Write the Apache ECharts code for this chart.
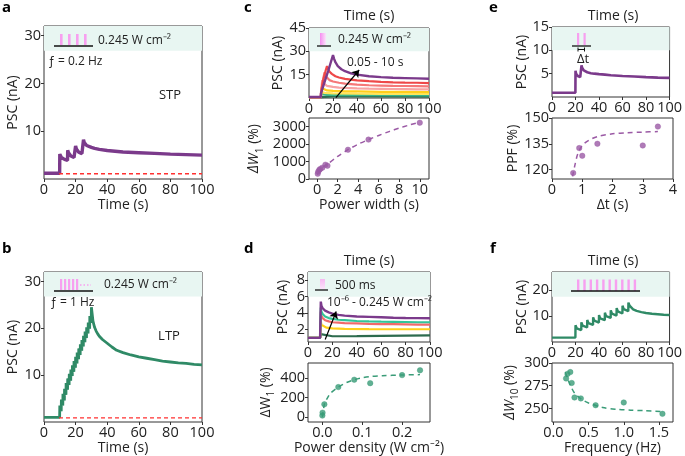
<!DOCTYPE html>
<html><head><meta charset="utf-8">
<script src="https://cdn.jsdelivr.net/npm/echarts@6/dist/echarts.min.js"></script>
<style>html,body{margin:0;padding:0;background:#fff}#c{width:685px;height:456px}</style>
</head><body><div id="c"></div>
<script>
// ---------------- DATA ----------------
// a: STP trace, time (s) vs PSC (nA)
const aTrace = [[0,1.2],[5,1.2],[9.9,1.2],[10,5.2],[10.5,4.8],[11,4.5],[12,4.3],[13,4.1],[14,4.0],[14.9,3.9],[15,6.0],[15.5,5.5],[16,5.1],[17,4.8],[18,4.6],[19,4.5],[19.9,4.4],[20,6.9],[20.5,6.3],[21,5.9],[22,5.6],[23,5.4],[24,5.3],[24.9,5.2],[25,8.2],[25.5,7.6],[26,7.2],[27,7.0],[28,6.85],[30,6.6],[32,6.4],[35,6.2],[40,5.95],[45,5.8],[50,5.65],[60,5.5],[70,5.35],[80,5.2],[90,5.1],[100,5.0]];
const aBaseline = [[9.5,1.1],[100,1.1]];
// b: LTP trace
const bTrace = [[0,1.0],[5,1.0],[9.9,1.0],
 [10,3.5],[10.9,2.3],[11,4.8],[11.9,3.5],[12,6.0],[12.9,4.6],[13,7.1],[13.9,5.8],[14,8.3],[14.9,6.9],[15,9.3],[15.9,7.9],
 [16,10.3],[16.9,8.8],[17,11.2],[17.9,9.8],[18,12.1],[18.9,10.7],[19,13.0],[19.9,11.6],[20,13.9],[20.9,12.5],
 [21,14.8],[21.9,13.4],[22,15.7],[22.9,14.3],[23,16.6],[23.9,15.2],[24,17.5],[24.9,16.1],[25,18.4],[25.9,17.0],
 [26,19.3],[26.9,17.9],[27,20.2],[27.9,18.9],[28,21.2],[28.9,19.9],[29,22.6],[29.9,21.2],[30,24.5],
 [31,21.5],[32,20.2],[33,19.4],[34,18.8],[35,18.3],[37,17.6],[40,16.8],[43,16.0],[46,15.3],[50,14.8],[55,14.3],
 [60,13.9],[65,13.6],[70,13.3],[75,13.0],[80,12.8],[85,12.6],[90,12.5],[95,12.3],[100,12.2]];
const bBaseline = [[9.5,0.9],[100,0.9]];
// c: traces for pulse widths 0.05 - 10 s
const cPurple = [[0,0.6],[9.9,0.6],[10,3],[12,8],[14,12.8],[16,17.5],[18,22.5],[20,27.5],[21,25],[22,23],[24,20.5],[27,18.5],[30,17.2],[35,15.8],[40,15],[50,14],[60,13.4],[70,13],[80,12.8],[90,12.6],[100,12.4]];
const cRed = [[0,0.6],[9.9,0.6],[10,3],[11,8],[12,12],[13,15],[14,18],[15,20.5],[16,18.5],[17,17],[19,15.5],[22,14],[25,13.2],[30,12.3],[40,11.3],[50,10.8],[60,10.4],[70,10.1],[80,9.9],[90,9.8],[100,9.6]];
const cSalmon = [[0,0.6],[9.9,0.6],[10,3],[11,8.5],[12,13],[13,16.5],[14,14],[15,12.8],[17,11.5],[20,10.6],[25,9.8],[30,9.2],[40,8.6],[50,8.2],[60,8.0],[70,7.8],[80,7.7],[90,7.6],[100,7.5]];
const cPink = [[0,0.6],[9.9,0.6],[10,4],[11,11.5],[12,9.5],[13,8.6],[15,7.8],[20,7.1],[25,6.7],[30,6.5],[40,6.2],[50,6.0],[60,5.9],[70,5.8],[80,5.7],[90,5.6],[100,5.6]];
const cYellow = [[0,0.6],[9.9,0.6],[10.5,6.5],[11,5.8],[12,5.3],[15,4.9],[20,4.6],[30,4.3],[40,4.2],[60,4.0],[80,3.9],[100,3.8]];
const cGold = [[0,0.6],[9.9,0.6],[10.2,4],[11,3.6],[13,3.3],[20,3.0],[40,2.8],[60,2.7],[100,2.6]];
const cGreen = [[0,0.6],[9.9,0.6],[10.1,2.6],[11,2.2],[15,2.0],[30,1.9],[60,1.8],[100,1.7]];
const cDarkGreen = [[0,0.6],[9.9,0.6],[10.05,1.6],[11,1.3],[20,1.1],[50,1.0],[100,0.9]];
// c bottom: power width (s) vs dW1 (%)
const cWidth = [0.05, 0.1, 0.2, 0.3, 0.5, 0.8, 1, 3, 5, 10];
const cDW = [300, 420, 520, 580, 650, 820, 760, 1680, 2260, 3230];
const cFitX = [0, 0.5, 1, 2, 3, 4, 5, 6, 7, 8, 9, 10];
const cFitY = [250, 650, 850, 1300, 1680, 2000, 2260, 2500, 2720, 2920, 3100, 3260];
// d: traces for power densities
const dPurple = [[0,1.0],[9.9,1.0],[10.5,5.4],[11,4.9],[12,4.6],[14,4.3],[17,4.1],[20,3.95],[25,3.8],[30,3.7],[40,3.6],[50,3.55],[60,3.5],[70,3.45],[80,3.42],[90,3.4],[100,3.38]];
const dTeal = [[0,1.0],[9.9,1.0],[10.5,4.7],[11,4.2],[12,3.9],[14,3.6],[17,3.4],[20,3.3],[25,3.2],[30,3.15],[40,3.05],[50,3.0],[60,2.97],[70,2.95],[80,2.93],[90,2.9],[100,2.9]];
const dRed = [[0,1.0],[9.9,1.0],[10.5,4.2],[11,3.7],[12,3.4],[14,3.15],[17,3.0],[20,2.9],[25,2.85],[30,2.8],[40,2.75],[50,2.7],[60,2.68],[70,2.66],[80,2.64],[90,2.62],[100,2.6]];
const dYellow = [[0,1.0],[9.9,1.0],[10.5,3.0],[11,2.6],[12,2.4],[15,2.25],[20,2.15],[30,2.1],[50,2.07],[70,2.05],[100,2.05]];
const dGreen = [[0,1.0],[9.9,1.0],[10.5,1.45],[12,1.25],[20,1.2],[40,1.22],[60,1.25],[80,1.28],[100,1.3]];
// d bottom: power density vs dW1 (%)
const dPower = [0.000001, 0.0005, 0.005, 0.04, 0.08, 0.12, 0.2, 0.245];
const dDW = [15, 45, 130, 305, 380, 345, 427, 476];
const dFitX = [0, 0.005, 0.01, 0.02, 0.04, 0.06, 0.08, 0.1, 0.12, 0.15, 0.2, 0.245];
const dFitY = [0, 130, 175, 240, 305, 350, 380, 400, 412, 420, 428, 432];
// e: paired pulse trace
const eTrace = [[0,0.9],[10,0.9],[19.9,0.9],[20,5.6],[20.5,5.0],[21,4.7],[22,4.5],[23,4.35],[24,4.25],[25,4.2],[25.1,6.8],[25.6,6.3],[26,6.0],[27,5.7],[28,5.5],[30,5.3],[33,5.1],[36,5.0],[40,4.9],[45,4.8],[50,4.65],[60,4.5],[70,4.4],[80,4.25],[90,4.15],[100,4.1]];
const eDt = [0.7, 0.9, 1.0, 1.5, 3.0, 3.5];
const ePPF = [118, 132.5, 128, 135, 134, 145];
const eFitX = [0.68, 0.75, 0.85, 1.0, 1.2, 1.5, 2.0, 2.5, 3.0, 3.5];
const eFitY = [116, 122, 129, 134, 136.8, 139.2, 140.8, 141.4, 141.8, 142.1];
// f: pulse train trace
const fTrace = [[0,1.7],[10,1.7],[19.9,1.7],
 [20,6.5],[21,5.3],[24.9,4.6],[25,7.6],[26,6.3],[29.9,5.6],[30,8.5],[31,7.3],[34.9,6.6],[35,9.5],[36,8.2],[39.9,7.5],
 [40,10.4],[41,9.1],[44.9,8.4],[45,11.3],[46,10.0],[49.9,9.3],[50,12.2],[51,10.9],[54.9,10.2],[55,13.1],[56,11.8],[59.9,11.0],
 [60,14.0],[61,12.7],[64.9,11.9],[65,15.2],[66,14.0],[67,13.3],[69,12.6],[72,12.0],[76,11.5],[80,11.2],[85,10.9],[90,10.7],[95,10.5],[100,10.4]];
const fFreq = [0.18, 0.2, 0.24, 0.26, 0.3, 0.39, 0.6, 1.0, 1.55];
const fDW = [283, 288, 290, 278, 262, 261, 253.5, 256.5, 244];
const fFitX = [0.17, 0.2, 0.25, 0.3, 0.4, 0.5, 0.7, 0.9, 1.1, 1.3, 1.55];
const fFitY = [290, 283, 274, 267, 260, 256, 251, 249, 248, 247.5, 246.5];
// tick labels
const timeTicks = [0, 20, 40, 60, 80, 100];
const aYTicks = [10, 20, 30];
const cYTicks = [15, 30, 45];
const cBYTicks = [0, 1000, 2000, 3000];
const cBXTicks = [0, 2, 4, 6, 8, 10];
const dYTicks = [2, 4, 6, 8];
const dBYTicks = [0, 200, 400];
const dBXTicks = [0, 0.1, 0.2];
const eYTicks = [5, 10, 15];
const eBYTicks = [120, 135, 150];
const eBXTicks = [0, 1, 2, 3, 4];
const fYTicks = [10, 20];
const fBYTicks = [250, 275, 300];
const fBXTicks = [0, 0.5, 1.0, 1.5];

// ---------------- STYLE / LAYOUT ----------------
const FONT = '"Open Sans", "Liberation Sans", sans-serif';
const TXT = '#222';
const TICKF = 14.5, NAMEF = 14;
const PURPLE = '#7b3a8b', GREEN = '#2f8a66', GREEN2 = '#3a9c78', RED = '#ff3030', MINT = '#e8f6f2', PINK = '#f7a0f0';
const boxes = [
  [44, 26, 202, 179],   // a
  [44, 272, 202, 423],  // b
  [309, 28, 429, 98],   // c top
  [309, 118, 429, 179], // c bottom
  [308, 272, 430, 342], // d top
  [308, 363, 430, 423], // d bottom
  [552, 27, 673, 97],   // e top
  [552, 118, 673, 179], // e bottom
  [552, 272, 673, 342], // f top
  [552, 363, 673, 423]  // f bottom
];
const grids = boxes.map(b => ({left: b[0], top: b[1], width: b[2]-b[0], height: b[3]-b[1],
  show: true, borderColor: '#333', borderWidth: 1, backgroundColor: '#fff', containLabel: false}));

function xa(gi, min, max, ticks, name, gap, fmt) {
  return {gridIndex: gi, type: 'value', min, max,
    axisLine: {show: false, onZero: false}, splitLine: {show: false},
    axisTick: {show: true, customValues: ticks, length: 3, lineStyle: {color: '#333'}},
    axisLabel: {customValues: ticks, fontSize: TICKF, color: TXT, fontFamily: FONT, margin: 3, formatter: fmt || (v => String(v))},
    name: name || '', nameLocation: 'middle', nameGap: gap || 20,
    nameTextStyle: {fontSize: NAMEF, color: TXT, fontFamily: FONT}};
}
function ya(gi, min, max, ticks, name, gap, rich) {
  return {gridIndex: gi, type: 'value', min, max,
    axisLine: {show: false, onZero: false}, splitLine: {show: false},
    axisTick: {show: true, customValues: ticks, length: 3, lineStyle: {color: '#333'}},
    axisLabel: {customValues: ticks, fontSize: TICKF, color: TXT, fontFamily: FONT, margin: 3, formatter: v => String(v)},
    name: name, nameLocation: 'middle', nameGap: gap, nameRotate: 90,
    nameTextStyle: {fontSize: NAMEF, color: TXT, fontFamily: FONT, rich: rich || {}}};
}
const subRich = {
  it: {fontSize: NAMEF, fontStyle: 'italic', color: TXT, fontFamily: FONT},
  up: {fontSize: NAMEF, color: TXT, fontFamily: FONT},
  sub: {fontSize: 10, color: TXT, fontFamily: FONT, verticalAlign: 'bottom', lineHeight: 21}
};

const xAxes = [
  xa(0, 0, 100, timeTicks, 'Time (s)', 19),
  xa(1, 0, 100, timeTicks, 'Time (s)', 19),
  xa(2, 0, 100, timeTicks),
  xa(3, -0.8, 10.9, cBXTicks, 'Power width (s)', 19),
  xa(4, 0, 100, timeTicks),
  xa(5, -0.036, 0.27, dBXTicks, 'Power density (W cm⁻²)', 19, v => v.toFixed(1)),
  xa(6, 0, 100, timeTicks),
  xa(7, 0, 4, eBXTicks, 'Δt (s)', 19),
  xa(8, 0, 100, timeTicks),
  xa(9, -0.02, 1.7, fBXTicks, 'Frequency (Hz)', 19, v => v.toFixed(1))
];
const yAxes = [
  ya(0, 0, 32, aYTicks, 'PSC (nA)', 24),
  ya(1, 0, 32, aYTicks, 'PSC (nA)', 24),
  ya(2, 0, 45, cYTicks, 'PSC (nA)', 24),
  ya(3, 0, 3500, cBYTicks, '{it|ΔW}{sub|1}{up| (%)}', 44, subRich),
  ya(4, 0.5, 9, dYTicks, 'PSC (nA)', 18),
  ya(5, -50, 550, dBYTicks, '{up|ΔW}{sub|1}{up| (%)}', 31, subRich),
  ya(6, 0, 15, eYTicks, 'PSC (nA)', 22),
  ya(7, 114.5, 150, eBYTicks, 'PPF (%)', 28),
  ya(8, 0, 27, fYTicks, 'PSC (nA)', 22),
  ya(9, 235, 300, fBYTicks, '{it|ΔW}{sub|10}{up| (%)}', 31, subRich)
];

function band(lo, hi) {
  return {silent: true, itemStyle: {color: MINT}, data: [[{yAxis: lo}, {yAxis: hi}]]};
}
function ln(gi, data, color, width, extra) {
  return Object.assign({type: 'line', xAxisIndex: gi, yAxisIndex: gi, data, symbol: 'none', showSymbol: false,
    lineStyle: {color, width}, itemStyle: {color}, animation: false, z: 3}, extra || {});
}
function pairs(xs, ys) { return xs.map((x, i) => [x, ys[i]]); }
function sc(gi, xs, ys, color) {
  return {type: 'scatter', xAxisIndex: gi, yAxisIndex: gi, data: pairs(xs, ys), symbolSize: 5.5,
    itemStyle: {color, borderColor: color, borderWidth: 0.5}, animation: false, z: 4};
}
function fit(gi, xs, ys, color) {
  return ln(gi, pairs(xs, ys), color, 1.5, {smooth: 0.3, lineStyle: {color, width: 1.5, type: [5, 4]}});
}
function arrowLine(from, to) {
  return {silent: true, symbol: ['none', 'arrow'], symbolSize: 7, label: {show: false},
    lineStyle: {color: '#000', width: 1.2, type: 'solid'},
    data: [[{coord: from}, {coord: to}]]};
}

const series = [
  // a
  ln(0, aTrace, PURPLE, 3.4, {markArea: band(26.8, 32)}),
  ln(0, aBaseline, RED, 1.3, {z: 4, lineStyle: {color: RED, width: 1.3, type: [4, 3]}}),
  // b
  ln(1, bTrace, GREEN, 2.8, {markArea: band(26.8, 32)}),
  ln(1, bBaseline, RED, 1.3, {z: 4, lineStyle: {color: RED, width: 1.3, type: [4, 3]}}),
  // c top
  ln(2, cDarkGreen, '#2d6b4e', 2.2, {markArea: band(30, 45)}),
  ln(2, cGreen, '#37b58a', 2.2),
  ln(2, cGold, '#ffe45c', 2.2),
  ln(2, cYellow, '#ffcf1a', 2.2),
  ln(2, cPink, '#f7a3a3', 2.2),
  ln(2, cSalmon, '#f57878', 2.2),
  ln(2, cRed, '#ee4848', 2.2),
  ln(2, cPurple, PURPLE, 2.4, {markLine: arrowLine([22.4, 0.2], [41.8, 18])}),
  // c bottom
  fit(3, cFitX, cFitY, '#9b5aa5'),
  sc(3, cWidth, cDW, '#9b5aa5'),
  // d top
  ln(4, dGreen, '#2d6b4e', 2.2, {markArea: band(6, 9)}),
  ln(4, dYellow, '#ffcf1a', 2.2),
  ln(4, dRed, '#f06a6a', 2.2),
  ln(4, dTeal, '#33c498', 2.2),
  ln(4, dPurple, PURPLE, 2.4, {markLine: arrowLine([14.1, 0.8], [23.1, 4.2])}),
  // d bottom
  fit(5, dFitX, dFitY, GREEN2),
  sc(5, dPower, dDW, GREEN2),
  // e
  ln(6, eTrace, PURPLE, 2.6, {markArea: band(10, 15)}),
  fit(7, eFitX, eFitY, '#9b5aa5'),
  sc(7, eDt, ePPF, '#9b5aa5'),
  // f
  ln(8, fTrace, GREEN, 2.4, {markArea: band(17.5, 27)}),
  fit(9, fFitX, fFitY, GREEN2),
  sc(9, fFreq, fDW, GREEN2)
];

// ---------------- ANNOTATIONS (decoration, pixel layout) ----------------
const g = [];
function text(x, y, s, opt) {
  g.push({type: 'text', x, y, z: 100, style: Object.assign({text: s, fill: TXT, font: '12px ' + FONT, textAlign: 'left', textVerticalAlign: 'middle'}, opt || {})});
}
function rect(x, y, w, h, fill) { g.push({type: 'rect', z: 100, shape: {x, y, width: w, height: h}, style: {fill}}); }
function seg(x1, y1, x2, y2, stroke, w, dash) { g.push({type: 'line', z: 100, shape: {x1, y1, x2, y2}, style: {stroke, lineWidth: w || 1.2, lineDash: dash || null}}); }
// panel letters
[['a', 2, 8], ['b', 2, 249], ['c', 244, 8], ['d', 244, 249], ['e', 489, 8], ['f', 490, 249]].forEach(p =>
  text(p[1], p[2], p[0], {font: 'bold 15px ' + FONT, fill: '#000'}));
// top titles "Time (s)"
[[369, 16], [369, 261], [613, 16], [613, 261]].forEach(p => text(p[0], p[1], 'Time (s)', {textAlign: 'center', font: NAMEF + 'px ' + FONT}));
// a inset
[60, 68, 76, 84].forEach(x => rect(x, 34, 2.6, 11, PINK));
seg(54, 46, 93, 46, '#111', 1.3);
text(98, 41, '0.245 W cm⁻²');
text(48, 62, 'ƒ = 0.2 Hz');
text(170, 95, 'STP', {textAlign: 'center', font: '13px ' + FONT});
// b inset
[60, 64, 68, 72, 76].forEach(x => rect(x, 279, 2.2, 11, PINK));
seg(80, 285, 91, 285, PINK, 1.5, [1.5, 2]);
seg(54, 291, 93, 291, '#111', 1.3);
text(104, 285, '0.245 W cm⁻²');
text(50, 303, 'ƒ = 1 Hz');
text(169, 336, 'LTP', {textAlign: 'center', font: '13px ' + FONT});
// c inset
g.push({type: 'rect', z: 100, shape: {x: 320, y: 33, width: 6, height: 12},
  style: {fill: new echarts.graphic.LinearGradient(0, 0, 1, 0, [{offset: 0, color: '#f58ef0'}, {offset: 1, color: '#fbe3fa'}])}});
seg(317, 46, 331, 46, '#111', 1.3);
text(338, 39.5, '0.245 W cm⁻²');
text(347, 63, '0.05 - 10 s');
// d inset
g.push({type: 'rect', z: 100, shape: {x: 320, y: 279, width: 5, height: 10},
  style: {fill: new echarts.graphic.LinearGradient(0, 0, 0, 1, [{offset: 0, color: '#f7b8f2'}, {offset: 1, color: '#fbe3fa'}])}});
seg(315, 290, 328, 290, '#111', 1.3);
text(335, 286, '500 ms');
text(327, 302.5, '10⁻⁶ - 0.245 W cm⁻²');
// e inset
[577, 583.5].forEach(x => rect(x, 33, 2.2, 12, PINK));
seg(572, 46, 591, 46, '#111', 1.3);
seg(578, 49.5, 584.5, 49.5, '#111', 1);
seg(578, 47.5, 578, 51.5, '#111', 1);
seg(584.5, 47.5, 584.5, 51.5, '#111', 1);
text(583, 59.5, 'Δt', {textAlign: 'center', font: '13px ' + FONT});
// f inset
[577, 583.3, 589.6, 595.9, 602.2, 608.5, 614.8, 621.1, 627.4, 633.7].forEach(x => rect(x, 279.5, 2.4, 11.5, PINK));
seg(571, 291, 640, 291, '#111', 1.3);

const chart = echarts.init(document.getElementById('c'), null, {renderer: 'canvas'});
chart.setOption({
  animation: false,
  backgroundColor: '#fff',
  textStyle: {fontFamily: FONT},
  grid: grids, xAxis: xAxes, yAxis: yAxes, series, graphic: g
});
</script></body></html>
